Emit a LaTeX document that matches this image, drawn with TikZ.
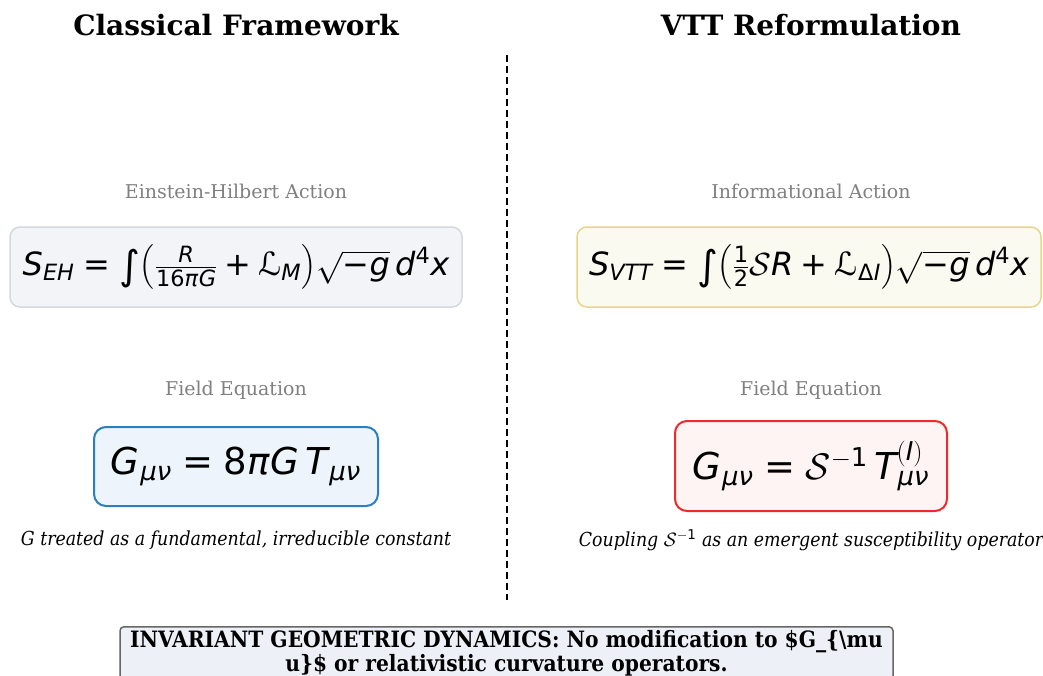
\documentclass[tikz,border=0pt]{standalone}
\usepackage{fix-cm}
\usepackage{amsmath}
\usepackage{mathspec}
\setmainfont{DejaVu Serif}
\setmathsfont(Digits,Latin,Greek,Symbols){DejaVu Sans}
\newfontfamily\condserif{DejaVu Serif Condensed}
\newfontfamily\dvsans{DejaVu Sans}
\usetikzlibrary{positioning}
\definecolor{subgray}{HTML}{808080}
\definecolor{ehfill}{HTML}{F3F4F8}
\definecolor{ehdraw}{HTML}{D3D9DE}
\definecolor{vtfill}{HTML}{FAFAF0}
\definecolor{vtdraw}{HTML}{E8D48A}
\definecolor{fefill}{HTML}{EEF4FB}
\definecolor{fedraw}{HTML}{2B7FBF}
\definecolor{rdfill}{HTML}{FFF4F4}
\definecolor{rddraw}{HTML}{EE2A2A}
\definecolor{ftfill}{HTML}{EDF0F6}
\definecolor{ftdraw}{HTML}{666666}
% sans glyphs for the equations, taken from DejaVu Sans
\newcommand{\tallint}{\mathop{\text{\dvsans\fontsize{40}{40}\selectfont\raisebox{-0.12em}{∫}}}\nolimits}
\newcommand{\scrL}{\text{\dvsans ℒ}}
\newcommand{\sEq}{\mathrel{\text{\dvsans =}}}
\newcommand{\sPlus}{\mathbin{\text{\dvsans +}}}
\newcommand{\sMinus}{\text{\dvsans −}}
\tikzset{
  coltitle/.style={font=\fontsize{28}{33}\selectfont\bfseries},
  subhead/.style={font=\fontsize{19}{23}\selectfont, text=subgray},
  eqbox/.style={rounded corners=10pt, line width=1.5pt, inner sep=0pt},
  caption/.style={font=\condserif\itshape\fontsize{19.3}{23}\selectfont},
}
\begin{document}
\begin{tikzpicture}[x=1pt,y=-1pt]
\clip (0,0) rectangle (1043,675);
\fill[white] (0,0) rectangle (1043,675);

% column headings
\node[coltitle] (tl) at (236,25) {Classical Framework};
\node[coltitle] (tr) at (811,25) {VTT Reformulation};

% separator
\coordinate (sa) at (507,55);
\coordinate (sb) at (507,600);
\draw[line width=1.5pt, dash pattern=on 7pt off 4pt] (sa) -- (sb);

% actions
\node[subhead] (ehl) at (236,191) {Einstein-Hilbert Action};
\node[eqbox, fill=ehfill, draw=ehdraw, minimum width=452pt, minimum height=80pt,
      font=\fontsize{32}{38}\selectfont] (eh) at (236,267)
  {$S_{EH}\sEq\tallint\bigl(\frac{R}{16\pi G}\sPlus\scrL_M\bigr)\sqrt{\sMinus g}\,d^4x$};

\node[subhead] (ial) at (811,191) {Informational Action};
\node[eqbox, fill=vtfill, draw=vtdraw, minimum width=464pt, minimum height=80pt,
      font=\fontsize{32}{38}\selectfont] (ia) at (809,267)
  {$S_{VTT}\sEq\tallint\bigl(\frac{1}{2}\mathcal{S}R\sPlus\scrL_{\Delta I}\bigr)\sqrt{\sMinus g}\,d^4x$};

% field equations
\node[subhead] (fel) at (236,390) {Field Equation};
\node[eqbox, rounded corners=12pt, line width=2pt, fill=fefill, draw=fedraw,
      minimum width=284pt, minimum height=79pt,
      font=\fontsize{37}{44}\selectfont] (fe) at (236,466.5)
  {$G_{\mu\nu}\sEq8\pi G\,T_{\mu\nu}$};

\node[subhead] (frl) at (811,390) {Field Equation};
\node[eqbox, rounded corners=12pt, line width=2pt, fill=rdfill, draw=rddraw,
      minimum width=272pt, minimum height=90pt,
      font=\fontsize{37}{44}\selectfont] (fr) at (811,466)
  {$G_{\mu\nu}\sEq\mathcal{S}^{-1}\,T^{(I)}_{\mu\nu}$};

% captions
\node[caption] (cl) at (236,540) {G treated as a fundamental, irreducible constant};
\node[caption] (cr) at (811,540) {Coupling $\mathcal{S}^{-1}$ as an emergent susceptibility operator};

% footer
\node[anchor=north, draw=ftdraw, fill=ftfill, line width=1.5pt, rounded corners=4pt,
      minimum width=773pt, inner xsep=4pt, inner ysep=4pt, align=center,
      font=\condserif\bfseries\fontsize{22.5}{23.5}\selectfont] (ft) at (506.5,626)
  {INVARIANT GEOMETRIC DYNAMICS: No modification to \$G\_\{\textbackslash mu\\
   u\}\$ or relativistic curvature operators.};
\end{tikzpicture}
\end{document}
